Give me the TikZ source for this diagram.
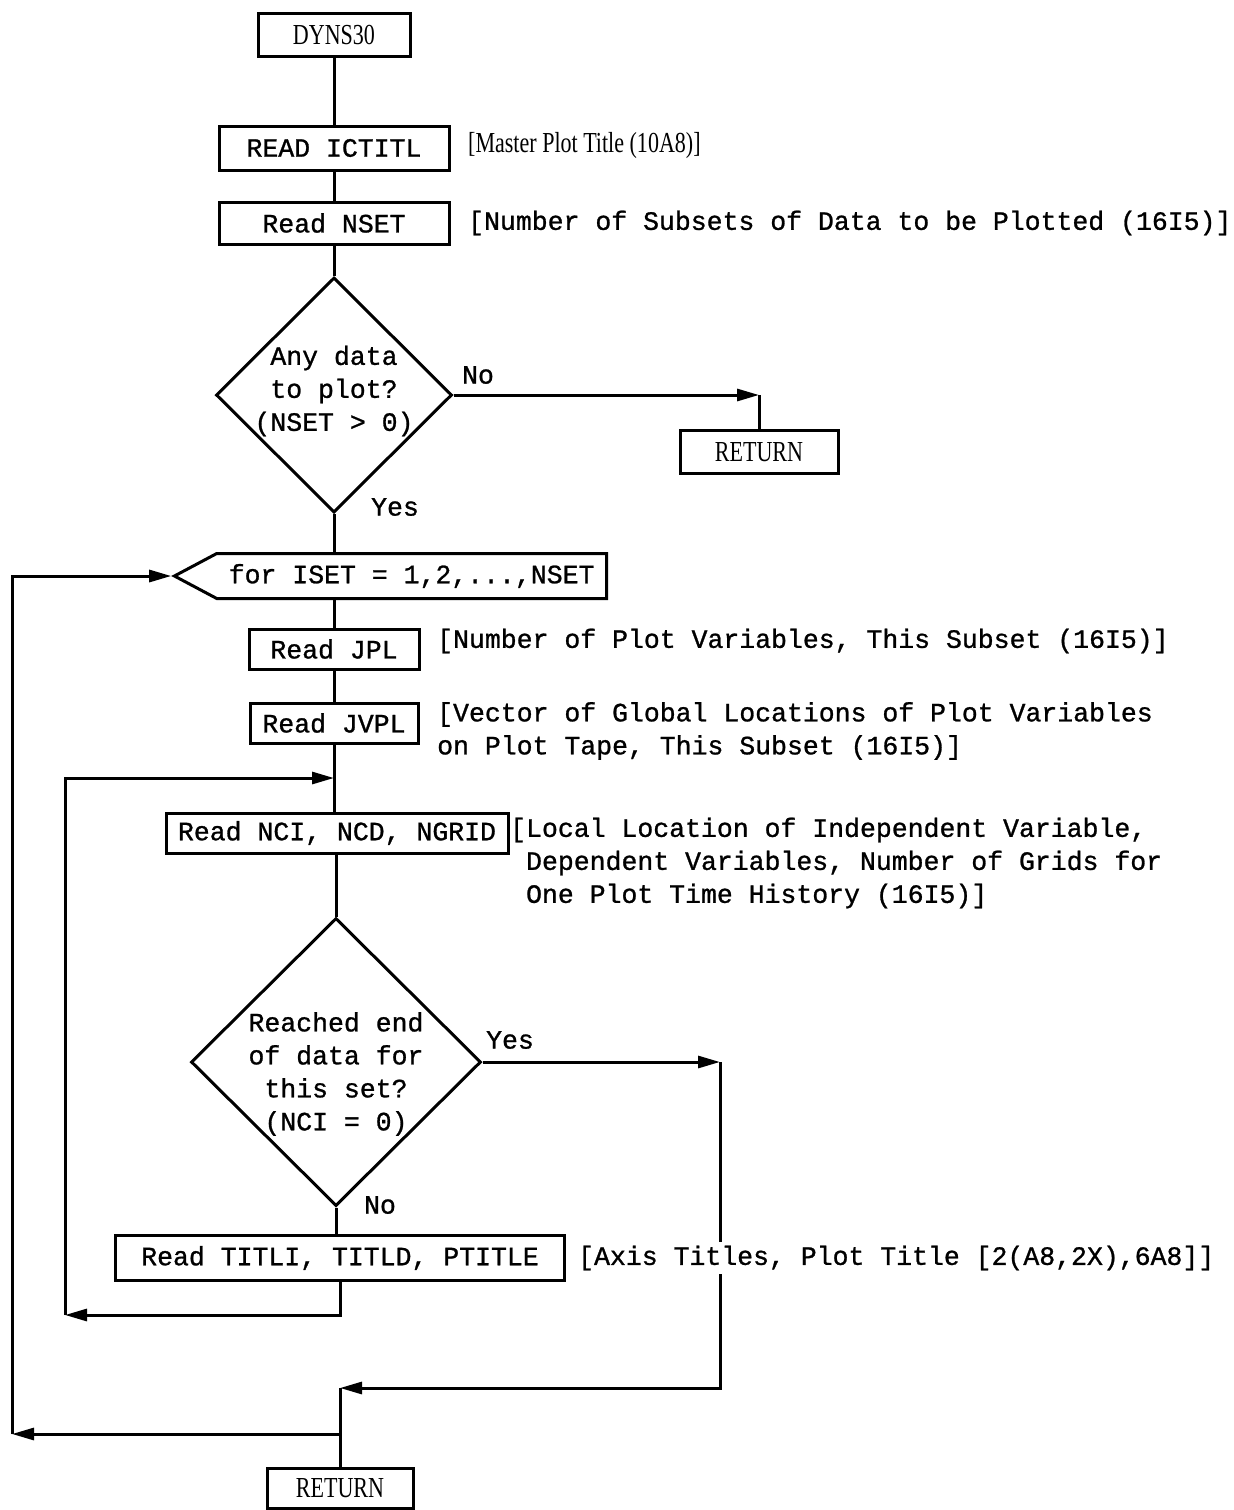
\documentclass[tikz,border=0pt]{standalone}
\usepackage{fontspec}
\usepackage{graphicx}
\usetikzlibrary{arrows.meta,shapes.geometric,shapes.symbols}
\newfontfamily\twfont[FakeBold=1]{Liberation Mono}
\newfontfamily\trfont{Liberation Serif}
\newcommand{\narrowtxt}[1]{\scalebox{0.76}[1]{#1}}
\begin{document}
\begin{tikzpicture}[x=1pt,y=-1pt,
  every node/.style={font=\twfont\fontsize{26.5}{33}\selectfont},
  box/.style={draw, line width=3pt, inner sep=0pt},
  ln/.style={line width=3pt},
  arr/.style={line width=3pt, -{Triangle[length=22pt,width=12pt]}},
  dia/.style={draw, diamond, line width=3pt, inner sep=0pt},
  note/.style={anchor=west, align=left, inner sep=0pt},
  lab/.style={inner sep=0pt},
  serifn/.style={font=\trfont\fontsize{29}{33}\selectfont}]
\useasboundingbox (0,0) rectangle (1234,1510);

% main column
\node[box, serifn, minimum width=152pt, minimum height=43pt] (dyns) at (334,35) {\narrowtxt{DYNS30}};
\node[box, minimum width=230pt, minimum height=44pt] (ictitl) at (334,148) {READ ICTITL};
\node[box, minimum width=230pt, minimum height=42pt] (nset) at (334,223) {Read NSET};
\node[dia, minimum width=236pt, minimum height=235pt] (d1) at (334,395) {};
\node[align=center, lab] (d1t) at (334,391) {Any data\\to plot?\\(NSET > 0)};
\node[box, serifn, minimum width=158pt, minimum height=43pt] (ret1) at (759,452) {\narrowtxt{RETURN}};
\node[draw, signal, signal to=west, signal from=nowhere, signal pointer angle=56,
      line width=3pt, anchor=east, minimum height=45pt, inner xsep=12pt, inner ysep=0pt]
      (forset) at (608,576) {for ISET = 1,2,...,NSET};
\node[box, minimum width=170pt, minimum height=40pt] (jpl) at (334,649) {Read JPL};
\node[box, minimum width=168pt, minimum height=40pt] (jvpl) at (334,723) {Read JVPL};
\node[box, minimum width=342pt, minimum height=40pt] (nci) at (337,833) {Read NCI, NCD, NGRID};
\node[dia, minimum width=290pt, minimum height=288pt] (d2) at (336,1062) {};
\node[align=center, lab] (d2t) at (336,1074) {Reached end\\of data for\\this set?\\(NCI = 0)};
\node[box, minimum width=449pt, minimum height=45pt] (titli) at (340,1258) {Read TITLI, TITLD, PTITLE};
\node[box, serifn, minimum width=146pt, minimum height=40pt] (ret2) at (340,1488) {\narrowtxt{RETURN}};

% branch labels
\node[lab] (no1) at (478,375) {No};
\node[lab] (yes1) at (395,507) {Yes};
\node[lab] (yes2) at (510,1040) {Yes};
\node[lab] (no2) at (380,1205) {No};

% annotations
\node[note, serifn] (a1) at (468,146) {\narrowtxt{[Master Plot Title (10A8)]}};
\node[note] (a2) at (468,223) {[Number of Subsets of Data to be Plotted (16I5)]};
\node[note] (a3) at (437,641) {[Number of Plot Variables, This Subset (16I5)]};
\node[note] (a4) at (437,731) {[Vector of Global Locations of Plot Variables\\on Plot Tape, This Subset (16I5)]};
\node[note] (a5) at (510,863) {[Local Location of Independent Variable,\\\phantom{[}Dependent Variables, Number of Grids for\\\phantom{[}One Plot Time History (16I5)]};

% junction coordinates
\coordinate (c1) at (ret1.north |- d1.east);
\coordinate (loopin) at (334,778);
\coordinate (ilb) at (65,1315);
\coordinate (yc) at (720,1062);
\coordinate (rj) at (340,1388);
\coordinate (lb) at (12,1434);

% connectors
\draw[ln] (dyns.south) -- (ictitl.north);
\draw[ln] (ictitl.south) -- (nset.north);
\draw[ln] (nset.south) -- (d1.north);
\draw[arr] (d1.east) -- (c1);
\draw[ln] (c1) -- (ret1.north);
\draw[ln] (d1.south) -- (d1.south |- forset.north);
\draw[ln] (jpl.north |- forset.south) -- (jpl.north);
\draw[ln] (jpl.south) -- (jvpl.north);
\draw[ln] (jvpl.south) -- (jvpl.south |- nci.north);
\draw[ln] (d2.north |- nci.south) -- (d2.north);
\draw[ln] (d2.south) -- (d2.south |- titli.north);
\draw[arr] (titli.south) |- (ilb);
\draw[arr] (ilb) |- (loopin);
\draw[arr] (d2.east) -- (yc);
\draw[arr] (yc) |- (rj);
\draw[ln] (rj) -- (ret2.north);
\draw[arr] (rj |- lb) -- (lb);
\draw[arr] (lb) |- (forset.west);

% annotation drawn over the return line
\node[note, fill=white, inner ysep=4pt] (a6) at (578,1258) {[Axis Titles, Plot Title [2(A8,2X),6A8]]};
\end{tikzpicture}
\end{document}
